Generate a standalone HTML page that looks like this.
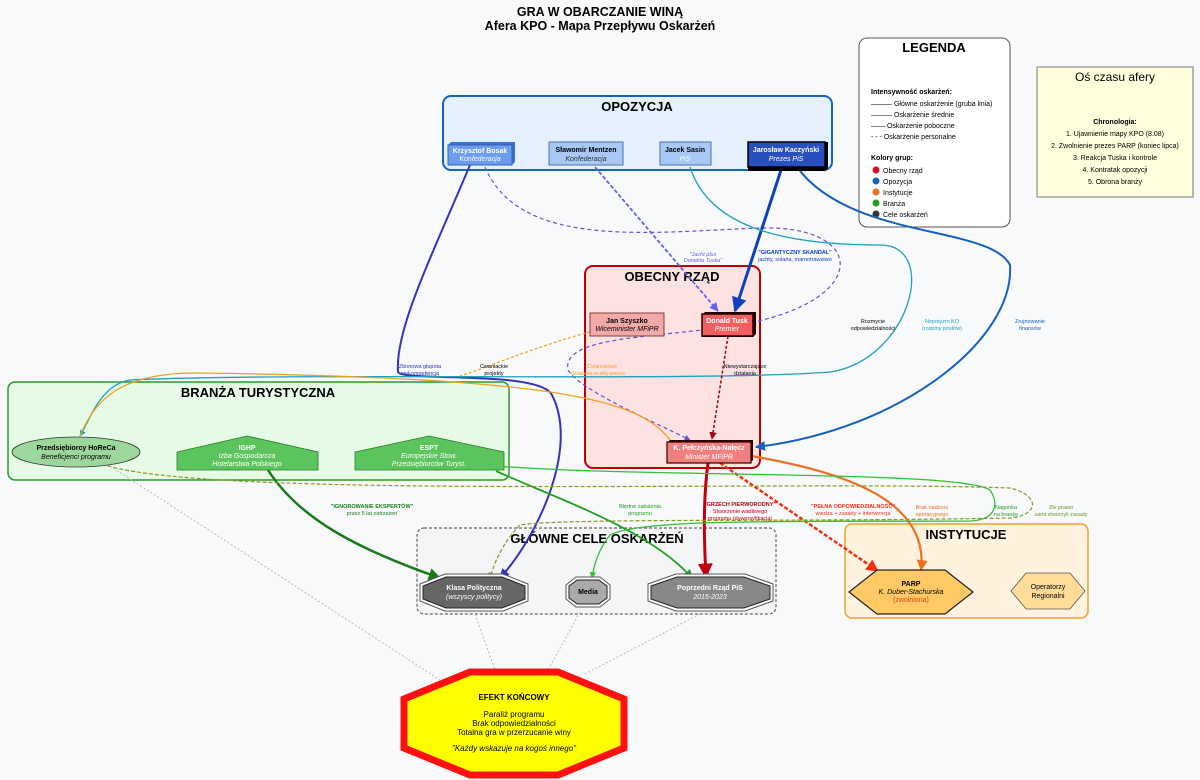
<!DOCTYPE html>
<html><head><meta charset="utf-8"><style>
html,body{margin:0;padding:0;background:#f8f9fb;}
svg{display:block;font-family:"Liberation Sans",sans-serif;}
</style></head><body>
<svg width="1200" height="780" viewBox="0 0 1200 780" xmlns="http://www.w3.org/2000/svg">
<defs>
<marker id="ab" viewBox="0 0 10 10" refX="9" refY="5" markerWidth="5" markerHeight="5" orient="auto"><path d="M0,0L10,5L0,10z" fill="context-stroke"/></marker>
</defs>
<rect width="1200" height="780" fill="#f8f9fb"/>
<text x="600" y="16" text-anchor="middle" font-size="12.5" font-weight="bold">GRA W OBARCZANIE WINĄ</text>
<text x="600" y="30" text-anchor="middle" font-size="12.5" font-weight="bold">Afera KPO - Mapa Przepływu Oskarżeń</text>

<!-- Clusters -->
<rect x="443" y="96" width="389" height="74" rx="8" fill="#e4f0fc" stroke="#1565c0" stroke-width="2"/>
<text x="637" y="111" text-anchor="middle" font-size="13" font-weight="bold">OPOZYCJA</text>
<rect x="585" y="266" width="175" height="202" rx="8" fill="#fde2e2" stroke="#c00000" stroke-width="2"/>
<text x="672" y="281" text-anchor="middle" font-size="13" font-weight="bold">OBECNY RZĄD</text>
<rect x="8" y="382" width="501" height="98" rx="7" fill="#e6fbe6" stroke="#2a9a2a" stroke-width="1.5"/>
<text x="258" y="397" text-anchor="middle" font-size="13" font-weight="bold">BRANŻA TURYSTYCZNA</text>
<rect x="417" y="528" width="359" height="86" rx="7" fill="#f4f5f7" stroke="#666" stroke-width="1.2" stroke-dasharray="3,2"/>
<text x="597" y="543" text-anchor="middle" font-size="13" font-weight="bold">GŁÓWNE CELE OSKARŻEŃ</text>
<rect x="845" y="524" width="243" height="94" rx="7" fill="#fff3e0" stroke="#f0a030" stroke-width="1.5"/>
<text x="966" y="539" text-anchor="middle" font-size="13" font-weight="bold">INSTYTUCJE</text>

<!-- Legend -->
<rect x="859" y="38" width="151" height="189" rx="8" fill="#fff" stroke="#555" stroke-width="1"/>
<text x="934" y="52" text-anchor="middle" font-size="13" font-weight="bold">LEGENDA</text>
<g font-size="7">
<text x="871" y="94" font-weight="bold">Intensywność oskarżeń:</text>
<text x="871" y="106">——— Główne oskarżenie (gruba linia)</text>
<text x="871" y="117">——— Oskarżenie średnie</text>
<text x="871" y="128">—— Oskarżenie poboczne</text>
<text x="871" y="139">- - - Oskarżenie personalne</text>
<text x="871" y="160" font-weight="bold">Kolory grup:</text>
<circle cx="876" cy="170" r="3.5" fill="#d01020"/><text x="883" y="173">Obecny rząd</text>
<circle cx="876" cy="181" r="3.5" fill="#1565c0"/><text x="883" y="184">Opozycja</text>
<circle cx="876" cy="192" r="3.5" fill="#f07020"/><text x="883" y="195">Instytucje</text>
<circle cx="876" cy="203" r="3.5" fill="#20a020"/><text x="883" y="206">Branża</text>
<circle cx="876" cy="214" r="3.5" fill="#333"/><text x="883" y="217">Cele oskarżeń</text>
</g>
<rect x="1037" y="67" width="156" height="130" fill="#ffffdd" stroke="#777" stroke-width="1"/>
<text x="1115" y="81" text-anchor="middle" font-size="12">Oś czasu afery</text>
<g font-size="7" text-anchor="middle">
<text x="1115" y="124" font-weight="bold">Chronologia:</text>
<text x="1115" y="136">1. Ujawnienie mapy KPO (8.08)</text>
<text x="1115" y="148">2. Zwolnienie prezes PARP (koniec lipca)</text>
<text x="1115" y="160">3. Reakcja Tuska i kontrole</text>
<text x="1115" y="172">4. Kontratak opozycji</text>
<text x="1115" y="184">5. Obrona branży</text>
</g>

<!-- Edges -->
<g fill="none">
<path d="M470,165 C430,260 395,330 398,372 C402,382 540,370 552,395 C580,450 535,540 500,578" stroke="#3333bb" stroke-width="2" marker-end="url(#ab)"/>
<path d="M485,167 C520,250 650,232 760,228 C860,225 870,290 770,318 C690,340 560,330 568,370 C580,390 650,420 690,440" stroke="#6a50d0" stroke-width="1.2" stroke-dasharray="4,3" marker-end="url(#ab)"/>
<path d="M595,167 L718,311" stroke="#6a60e8" stroke-width="1.8" stroke-dasharray="4,2" marker-end="url(#ab)"/>
<path d="M782,167 L735,311" stroke="#1040c0" stroke-width="3" marker-end="url(#ab)"/>
<path d="M797,167 C850,240 990,225 1010,265 C1015,340 900,430 756,447" stroke="#1560c0" stroke-width="2" marker-end="url(#ab)"/>
<path d="M690,167 C710,230 790,245 880,245 C940,245 910,360 830,372 C700,382 300,372 130,380 C100,385 90,420 80,436" stroke="#20a0c0" stroke-width="1.3" marker-end="url(#ab)"/>
<path d="M590,332 C540,345 480,370 460,376" stroke="#f0a020" stroke-width="1.2" stroke-dasharray="3,2"/>
<path d="M670,440 C640,400 560,378 200,373 C120,372 95,400 80,436" stroke="#f0a020" stroke-width="1.3"/>
<path d="M728,336 L712,439" stroke="#a00010" stroke-width="1.5" stroke-dasharray="3,2" marker-end="url(#ab)"/>
<path d="M708,463 C703,500 704,540 706,577" stroke="#c00010" stroke-width="3" marker-end="url(#ab)"/>
<path d="M720,463 L878,571" stroke="#f03010" stroke-width="2.5" stroke-dasharray="4,2" marker-end="url(#ab)"/>
<path d="M752,456 C830,470 930,495 921,570" stroke="#f07020" stroke-width="2.2" marker-end="url(#ab)"/>
<path d="M268,470 C300,520 360,550 440,578" stroke="#1a7a1a" stroke-width="2.5" marker-end="url(#ab)"/>
<path d="M496,471 C560,500 650,530 692,578" stroke="#20a020" stroke-width="1.8" marker-end="url(#ab)"/>
<path d="M496,466 C650,478 960,470 990,490 C1000,505 995,520 970,521 C800,522 640,518 610,535 C598,550 594,565 592,578" stroke="#30c030" stroke-width="1.3" marker-end="url(#ab)"/>
<path d="M102,464 C200,500 800,480 1010,488 C1040,495 1040,515 1010,518 C800,522 560,518 520,525 C505,540 495,560 490,578" stroke="#8a9a20" stroke-width="1.2" stroke-dasharray="4,2" marker-end="url(#ab)"/>
<g stroke="#bbb" stroke-width="1" stroke-dasharray="2,2">
<path d="M110,466 L440,680"/><path d="M475,614 L495,670"/><path d="M580,612 L548,670"/><path d="M700,614 L585,674"/>
</g>
</g>

<!-- Edge labels -->
<g font-size="5.5" text-anchor="middle">
<text x="420" y="368" fill="#3333bb">Zbiorowa głupota</text><text x="420" y="375" fill="#3333bb">niekompetencja</text>
<text x="494" y="368">Cwaniackie</text><text x="494" y="375">projekty</text>
<text x="602" y="368" fill="#f0a020">Cwaniactwo</text><text x="598" y="375" fill="#f0a020">działanie w złej wierze</text>
<text x="703" y="256" fill="#6a60e8" font-style="italic">"Jacht plus</text><text x="703" y="262" fill="#6a60e8" font-style="italic">Donalda Tuska"</text>
<text x="795" y="254" fill="#1040c0" font-weight="bold">"GIGANTYCZNY SKANDAL"</text><text x="795" y="261" fill="#1040c0">jachty, solaria, marnotrawstwo</text>
<text x="873" y="323">Rozmycie</text><text x="873" y="330">odpowiedzialności</text>
<text x="942" y="323" fill="#20a0c0">Nepotyzm KO</text><text x="942" y="330" fill="#20a0c0">(rodziny posłów)</text>
<text x="1030" y="323" fill="#1560c0">Zrujnowanie</text><text x="1030" y="330" fill="#1560c0">finansów</text>
<text x="745" y="368">Niewystarczające</text><text x="745" y="375">działania</text>
<text x="740" y="506" fill="#c00010" font-weight="bold">"GRZECH PIERWORODNY"</text><text x="740" y="513" fill="#c00010">Stworzenie wadliwego</text><text x="740" y="520" fill="#c00010">programu (dywersyfikacja)</text>
<text x="853" y="508" fill="#f03010" font-weight="bold">"PEŁNA ODPOWIEDZIALNOŚĆ"</text><text x="853" y="515" fill="#f03010">wiedza + zasady + interwencja</text>
<text x="932" y="509" fill="#f07020">Brak nadzoru</text><text x="932" y="516" fill="#f07020">operacyjnego</text>
<text x="1006" y="509" fill="#20a020">Nagonka</text><text x="1006" y="516" fill="#20a020">na branżę</text>
<text x="1061" y="509" fill="#6a9a20">Złe prawo</text><text x="1061" y="516" fill="#6a9a20">sami stworzyli zasady</text>
<text x="372" y="508" fill="#1a7a1a" font-weight="bold">"IGNOROWANIE EKSPERTÓW"</text><text x="372" y="515" fill="#1a7a1a">przez 5 lat ostrzeżeń</text>
<text x="640" y="508" fill="#20a020">Błędne założenia</text><text x="640" y="515" fill="#20a020">programu</text>
</g>

<!-- Opposition nodes -->
<g font-size="7" text-anchor="middle">
<polygon points="448,145 451,142 515,142 515,162 512,165 448,165" fill="#3a70d0"/>
<rect x="448" y="145" width="64" height="20" fill="#6b9cf0" stroke="#3a60b0"/>
<text x="480" y="153" fill="#fff" font-weight="bold">Krzysztof Bosak</text><text x="480" y="161" fill="#fff" font-style="italic">Konfederacja</text>
<rect x="549" y="142" width="74" height="23" fill="#a8c8f8" stroke="#5070a0"/>
<text x="586" y="152" font-weight="bold">Sławomir Mentzen</text><text x="586" y="161" font-style="italic" fill="#333">Konfederacja</text>
<rect x="660" y="142" width="51" height="23" fill="#a8c8f8" stroke="#5070a0"/>
<text x="685" y="152" font-weight="bold">Jacek Sasin</text><text x="685" y="161" fill="#fff" font-style="italic">PiS</text>
<polygon points="748,145 751,142 828,142 828,168 825,171 748,171" fill="#000"/>
<rect x="748" y="142" width="77" height="25" fill="#2a50c0" stroke="#000" stroke-width="1.5"/>
<text x="786" y="152" fill="#fff" font-weight="bold">Jarosław Kaczyński</text><text x="786" y="161" fill="#fff" font-style="italic">Prezes PiS</text>

<!-- Government -->
<rect x="590" y="313" width="74" height="23" fill="#f4a9a9" stroke="#804040"/>
<text x="627" y="323" font-weight="bold">Jan Szyszko</text><text x="627" y="331" font-style="italic">Wiceminister MFiPR</text>
<polygon points="702,315 705,312 756,312 756,334 753,337 702,337" fill="#200"/>
<rect x="702" y="314" width="51" height="22" fill="#f06060" stroke="#200" stroke-width="1.5"/>
<text x="727" y="323" fill="#fff" font-weight="bold">Donald Tusk</text><text x="727" y="331" fill="#fff" font-style="italic">Premier</text>
<polygon points="667,443 670,440 753,440 753,460 750,463 667,463" fill="#300"/>
<rect x="667" y="442" width="84" height="21" fill="#f08080" stroke="#300" stroke-width="1.2"/>
<text x="709" y="450" fill="#fff" font-weight="bold">K. Pełczyńska-Nałęcz</text><text x="709" y="459" fill="#fff" font-style="italic">Minister MFiPR</text>

<!-- Branża -->
<ellipse cx="76" cy="452" rx="64" ry="15" fill="#9cd79c" stroke="#333" stroke-width="0.8"/>
<text x="76" y="450" font-weight="bold">Przedsiębiorcy HoReCa</text><text x="76" y="459" font-style="italic">Beneficjenci programu</text>
<polygon points="177,452 247,436 318,452 318,470 177,470" fill="#5cc45c" stroke="#2a7a2a" stroke-width="0.8"/>
<text x="247" y="450" fill="#fff" font-weight="bold">IGHP</text><text x="247" y="458" fill="#fff" font-style="italic">Izba Gospodarcza</text><text x="247" y="466" fill="#fff" font-style="italic">Hotelarstwa Polskiego</text>
<polygon points="355,452 429,436 504,452 504,470 355,470" fill="#5cc45c" stroke="#2a7a2a" stroke-width="0.8"/>
<text x="429" y="450" fill="#fff" font-weight="bold">ESPT</text><text x="429" y="458" fill="#fff" font-style="italic">Europejskie Stow.</text><text x="429" y="466" fill="#fff" font-style="italic">Przedsiębiorców Turyst.</text>

<!-- Targets -->
<polygon points="420,584 445,574 503,574 528,584 528,601 503,611 445,611 420,601" fill="#fff" stroke="#555"/>
<polygon points="423,586 446,577 502,577 525,586 525,599 502,608 446,608 423,599" fill="#666" stroke="#222"/>
<text x="474" y="590" fill="#fff" font-weight="bold">Klasa Polityczna</text><text x="474" y="599" fill="#fff" font-style="italic">(wszyscy politycy)</text>
<polygon points="566,585 576,577 600,577 610,585 610,599 600,607 576,607 566,599" fill="#fff" stroke="#555"/>
<polygon points="569,586 577,580 599,580 607,586 607,598 599,604 577,604 569,598" fill="#aaa" stroke="#222"/>
<text x="588" y="594" font-weight="bold">Media</text>
<polygon points="648,584 676,574 745,574 773,584 773,601 745,611 676,611 648,601" fill="#fff" stroke="#555"/>
<polygon points="651,586 677,577 744,577 770,586 770,599 744,608 677,608 651,599" fill="#888" stroke="#222"/>
<text x="710" y="590" fill="#fff" font-weight="bold">Poprzedni Rząd PiS</text><text x="710" y="599" fill="#fff" font-style="italic">2015-2023</text>

<!-- Institutions -->
<polygon points="849,592 877,570 945,570 973,592 945,614 877,614" fill="#ffc966" stroke="#222" stroke-width="1.2"/>
<text x="911" y="586" font-weight="bold">PARP</text><text x="911" y="594" font-style="italic">K. Duber-Stachurska</text><text x="911" y="602" fill="#e04010">(zwolniona)</text>
<polygon points="1011,591 1026,573 1070,573 1085,591 1070,609 1026,609" fill="#ffdd99" stroke="#555" stroke-width="0.8"/>
<text x="1048" y="589">Operatorzy</text><text x="1048" y="598">Regionalni</text>

<!-- Final -->
<polygon points="404,699 470,672 558,672 624,699 624,748 558,775 470,775 404,748" fill="#ffff00" stroke="#ff1010" stroke-width="7" stroke-linejoin="miter"/>
<text x="514" y="700" font-size="8" font-weight="bold">EFEKT KOŃCOWY</text>
<text x="514" y="717" font-size="8">Paraliż programu</text>
<text x="514" y="726" font-size="8">Brak odpowiedzialności</text>
<text x="514" y="735" font-size="8">Totalna gra w przerzucanie winy</text>
<text x="514" y="751" font-size="8" font-style="italic">"Każdy wskazuje na kogoś innego"</text>
</g>
</svg>
</body></html>
